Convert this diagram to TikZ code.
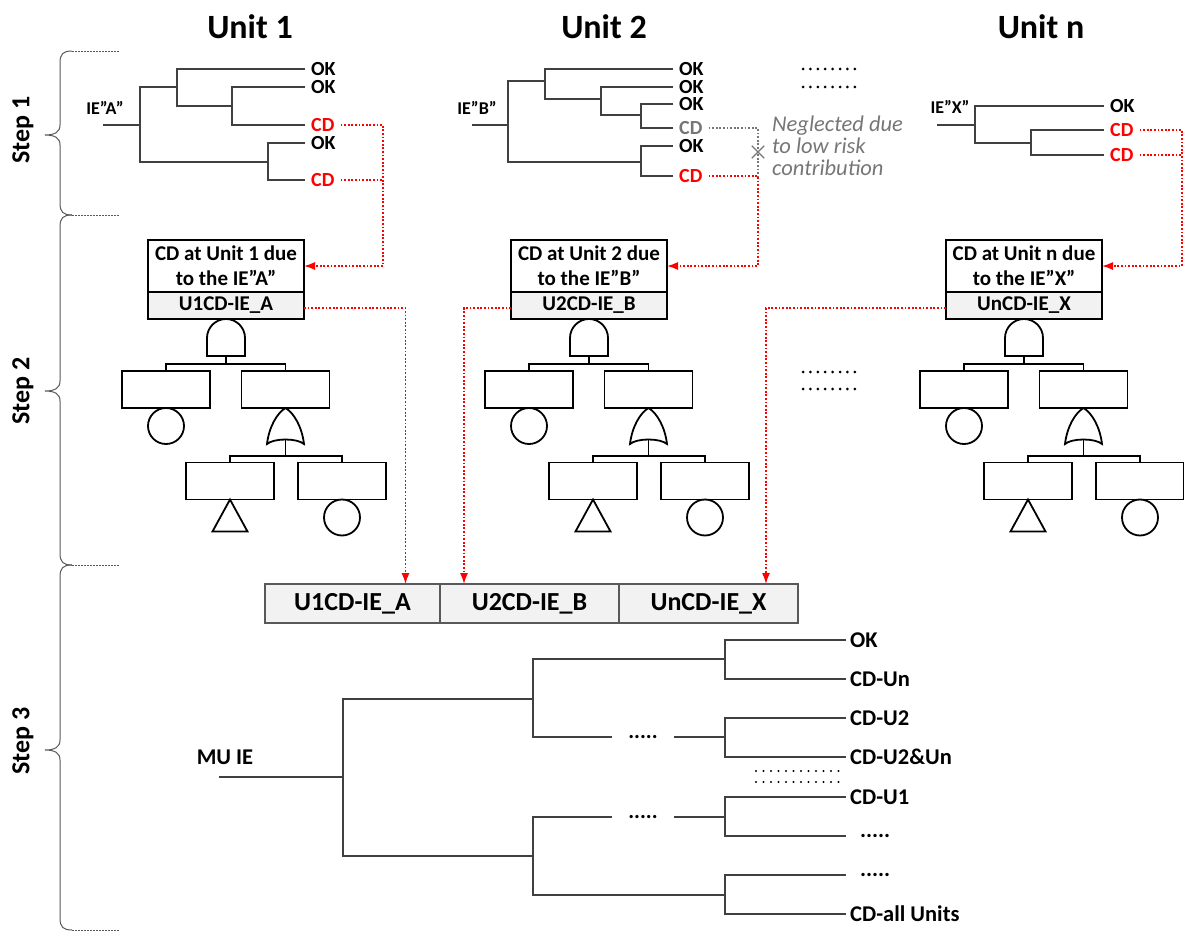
\documentclass[tikz,border=0pt]{standalone}
\usepackage{fontspec}
\setmainfont{Carlito}
\usetikzlibrary{arrows.meta,positioning,shapes.misc}
\definecolor{treegray}{RGB}{64,64,64}
\definecolor{notegray}{RGB}{118,118,118}
\definecolor{tagfill}{RGB}{242,242,242}
\definecolor{bandline}{RGB}{89,89,89}
\tikzset{%
  >={Latex[width=8pt,length=11pt]},
  % Specifications for style of nodes:
        title/.style = {font=\fontsize{34}{40}\selectfont\bfseries},
      steplab/.style = {rotate=90, font=\fontsize{26}{30}\selectfont\bfseries},
           ie/.style = {font=\fontsize{18}{20}\selectfont\bfseries},
         leaf/.style = {anchor=west, inner xsep=6pt, inner ysep=0pt,
                        font=\fontsize{20}{22}\selectfont\bfseries},
       cdleaf/.style = {leaf, text=red},
       grleaf/.style = {leaf, text=notegray},
         note/.style = {text=notegray, align=left, inner sep=0pt,
                        font=\fontsize{22.5}{22}\selectfont\itshape},
          cut/.style = {draw=notegray, cross out, minimum size=11pt,
                        inner sep=0pt, line width=1.3pt},
        cdbox/.style = {rectangle, draw=black, line width=1.8pt,
                        minimum width=156pt, minimum height=52pt, outer sep=0pt,
                        inner sep=2pt, align=center,
                        font=\fontsize{21}{25}\selectfont\bfseries},
       tagbox/.style = {rectangle, draw=black, fill=tagfill, line width=1.8pt,
                        minimum width=156pt, minimum height=27pt, outer sep=0pt,
                        inner sep=0pt, font=\fontsize{21}{24}\selectfont\bfseries},
        event/.style = {rectangle, draw=black, line width=1.8pt,
                        minimum width=88pt, minimum height=37pt, inner sep=0pt,
                        outer sep=0pt},
        basic/.style = {circle, draw=black, line width=1.8pt,
                        minimum size=36pt, inner sep=0pt, outer sep=0pt},
           ft/.style = {draw=black, line width=1.8pt, line join=miter},
         cell/.style = {rectangle, draw=bandline, fill=tagfill, line width=1.6pt,
                        minimum height=39pt, outer sep=0pt, inner sep=0pt,
                        font=\fontsize{26}{30}\selectfont\bfseries},
          evt/.style = {draw=treegray, line width=1.5pt},
          seq/.style = {draw=black!75, line width=1.1pt},
       s3leaf/.style = {anchor=west, inner xsep=4pt, inner ysep=1pt,
                        font=\fontsize{22.5}{24}\selectfont\bfseries},
      gapdots/.style = {inner xsep=16pt, inner ysep=0pt,
                        font=\fontsize{22}{24}\selectfont\bfseries},
       cdlink/.style = {draw=red, line width=1.4pt, dash pattern=on 1.8pt off 1.8pt},
      cdarrow/.style = {cdlink, ->},
       grlink/.style = {draw=notegray, line width=1.2pt, dash pattern=on 1.8pt off 1.8pt},
       dotrow/.style = {line width=3pt, line cap=round, dash pattern=on 0pt off 7.4pt},
        brace/.style = {draw=bandline, line width=1pt},
        guide/.style = {draw=bandline, line width=0.8pt, dash pattern=on 1.5pt off 1.5pt},
}
\begin{document}
\begin{tikzpicture}[x=1pt, y=-1pt]
  \useasboundingbox (0,0) rectangle (1184,934);

  % Column titles
  \node[title] (unit1) at (250,27) {Unit 1};
  \node[title] (unit2) at (604,27) {Unit 2};
  \node[title] (unitn) at (1041,27) {Unit n};

  % Braces for the three steps
  \foreach \ya/\ym/\yb in {51/135/215, 215/391/565, 565/750/930}{
    \draw[brace] (72,\ya) .. controls (63,\ya) and (60,\ya+3) .. (60,\ya+12)
      -- (60,\ym-10) .. controls (60,\ym-3) and (55,\ym) .. (45,\ym)
      .. controls (55,\ym) and (60,\ym+3) .. (60,\ym+10)
      -- (60,\yb-12) .. controls (60,\yb-3) and (63,\yb) .. (72,\yb);
    \draw[guide] (72,\ya) -- (120,\ya) (72,\yb) -- (120,\yb);
  }
  \node[steplab] (step1) at (23,130) {Step 1};
  \node[steplab] (step2) at (23,391) {Step 2};
  \node[steplab] (step3) at (23,741) {Step 3};

  % Step 1: event tree of unit 1
  \node[ie] (ieA) at (105,108) {IE”A”};
  \coordinate (rA) at (103,125);
  \coordinate (sA1) at (140,125);
  \coordinate (sA2) at (177,87);
  \coordinate (sA3) at (232,106);
  \coordinate (sA4) at (268,162);
  \node[leaf] (a1) at (305,69) {OK};
  \node[leaf] (a2) at (305,87) {OK};
  \node[cdleaf] (a3) at (305,125) {CD};
  \node[leaf] (a4) at (305,143) {OK};
  \node[cdleaf] (a5) at (305,180) {CD};
  \draw[evt] (rA) -- (sA1);
  \draw[evt] (sA2) -| (sA1) |- (sA4);
  \draw[evt] (a1.west) -| (sA2) |- (sA3);
  \draw[evt] (a2.west) -| (sA3) |- (a3.west);
  \draw[evt] (a4.west) -| (sA4) |- (a5.west);

  % event tree of unit 2
  \node[ie] (ieB) at (477,108) {IE”B”};
  \coordinate (rB) at (472,125);
  \coordinate (sB1) at (508,125);
  \coordinate (sB2) at (545,81);
  \coordinate (sB3) at (601,99);
  \coordinate (sB4) at (641,115);
  \coordinate (sB5) at (641,162);
  \node[leaf] (b1) at (673,69) {OK};
  \node[leaf] (b2) at (673,87) {OK};
  \node[leaf] (b3) at (673,104) {OK};
  \node[grleaf] (b4) at (673,128) {CD};
  \node[leaf] (b5) at (673,146) {OK};
  \node[cdleaf] (b6) at (673,176) {CD};
  \draw[evt] (rB) -- (sB1);
  \draw[evt] (sB2) -| (sB1) |- (sB5);
  \draw[evt] (b1.west) -| (sB2) |- (sB3);
  \draw[evt] (b2.west) -| (sB3) |- (sB4);
  \draw[evt] (b3.west) -| (sB4) |- (b4.west);
  \draw[evt] (b5.west) -| (sB5) |- (b6.west);
  \node[cut] (cut) at (758,152) {};
  \node[note, anchor=north west] (neg) at (772,116) {Neglected due\\to low risk\\contribution};

  % event tree of unit n
  \node[ie] (ieX) at (950,107) {IE”X”};
  \coordinate (rX) at (937,125);
  \coordinate (sX1) at (975,125);
  \coordinate (sX2) at (1031,143);
  \node[leaf] (x1) at (1104,106) {OK};
  \node[cdleaf] (x2) at (1104,130) {CD};
  \node[cdleaf] (x3) at (1104,155) {CD};
  \draw[evt] (rX) -- (sX1);
  \draw[evt] (x1.west) -| (sX1) |- (sX2);
  \draw[evt] (x2.west) -| (sX2) |- (x3.west);

  \draw[dotrow] (803,69) -- (862,69);
  \draw[dotrow] (803,87) -- (862,87);

  % Step 2: fault trees, one per unit
  \foreach \dx/\ev/\un in {0/A/1, 363/B/2, 798/X/n}{
    \begin{scope}[shift={(\dx,0)}]
      \node[cdbox] (cd\ev) at (226,266) {CD at Unit \un\ due\\to the IE”\ev”};
      \node[tagbox, below=0pt of cd\ev] (tag\ev) {U\un{}CD-IE\_\ev};
      % AND gate
      \draw[ft] (207,356) -- (207,338) arc[start angle=180, end angle=360, radius=19]
        -- (245,356) -- cycle;
      \coordinate (and\ev) at (226,356);
      \node[event] (l\ev) at (166,389.5) {};
      \node[event] (r\ev) at (285.5,389.5) {};
      \draw[ft] (and\ev) -- ++(0,8) coordinate (abar\ev);
      \draw[ft] (l\ev.north) |- (abar\ev) -| (r\ev.north);
      \node[basic] (el\ev) at (166,426) {};
      % OR gate
      \draw[ft] (267,444) .. controls (269,427) and (277,413) .. (285.5,408)
        .. controls (294,413) and (302,427) .. (304,444)
        .. controls (297,438) and (274,438) .. cycle;
      \coordinate (or\ev) at (285.5,439.5);
      \node[event] (ll\ev) at (230,481) {};
      \node[event] (lr\ev) at (342,481) {};
      \draw[ft] (or\ev) -- ++(0,16.5) coordinate (obar\ev);
      \draw[ft] (ll\ev.north) |- (obar\ev) -| (lr\ev.north);
      \draw[ft] (ll\ev.south) -- ++(-17.5,32) -- ++(35,0) -- cycle;
      \node[basic] (er\ev) at (342,517.5) {};
    \end{scope}
  }
  \draw[dotrow] (803,372) -- (862,372);
  \draw[dotrow] (803,389) -- (862,389);

  % links from the CD sequences to the fault trees
  \coordinate (colA) at (383,125);
  \coordinate (colX) at (1182,130);
  \draw[cdarrow] (a3.east) -- (colA) |- (cdA.east);
  \draw[cdlink] (a5.east) -- (a5.east -| colA);
  \draw[grlink] (b4.east) -| (cut.center) -- (cut.center |- b6.east);
  \draw[cdarrow] (b6.east) -- (b6.east -| cut) |- (cdB.east);
  \draw[cdarrow] (x2.east) -- (colX) |- (cdX.east);
  \draw[cdlink] (x3.east) -- (x3.east -| colX);

  % Step 3: merged top events
  \node[cell, minimum width=175pt] (c1) at (352.5,603.5) {U1CD-IE\_A};
  \node[cell, minimum width=179pt, right=0pt of c1] (c2) {U2CD-IE\_B};
  \node[cell, minimum width=179pt, right=0pt of c2] (c3) {UnCD-IE\_X};
  \draw[cdarrow] ([yshift=-2.5pt]tagA.east) -| ([xshift=53pt]c1.north);
  \draw[cdarrow] ([yshift=-2.5pt]tagB.west) -| ([xshift=-65.5pt]c2.north);
  \draw[cdarrow] ([yshift=-2.5pt]tagX.west) -| ([xshift=57.5pt]c3.north);

  % multi-unit event tree
  \node[s3leaf, anchor=center] (mu) at (225,757) {MU IE};
  \coordinate (r3) at (219,777);
  \coordinate (t1) at (343,777);
  \coordinate (t2) at (533,699);
  \coordinate (t3) at (725,659);
  \coordinate (t4) at (725,737);
  \coordinate (t5) at (533,856);
  \coordinate (t6) at (725,817);
  \coordinate (t7) at (725,895);
  \node[gapdots] (g1) at (643,737) {.....};
  \node[gapdots] (g2) at (643,817) {.....};
  \node[s3leaf] (m1) at (846,640) {OK};
  \node[s3leaf] (m2) at (846,679) {CD-Un};
  \node[s3leaf] (m3) at (846,718) {CD-U2};
  \node[s3leaf] (m4) at (846,757) {CD-U2\&Un};
  \node[s3leaf] (m5) at (846,797) {CD-U1};
  \node[s3leaf] (m6) at (846,836) {\hspace{10pt}.....};
  \node[s3leaf] (m7) at (846,875) {\hspace{10pt}.....};
  \node[s3leaf] (m8) at (846,914) {CD-all Units};
  \draw[seq] (r3) -- (t1);
  \draw[seq] (t2) -| (t1) |- (t5);
  \draw[seq] (t3) -| (t2) |- (g1.west);
  \draw[seq] (g1.east) -- (t4);
  \draw[seq] (m1.west) -| (t3) |- (m2.west);
  \draw[seq] (m3.west) -| (t4) |- (m4.west);
  \draw[seq] (g2.west) -| (t5) |- (t7);
  \draw[seq] (g2.east) -- (t6);
  \draw[seq] (m5.west) -| (t6) |- (m6.west);
  \draw[seq] (m7.west) -| (t7) |- (m8.west);
  \draw[dotrow, line width=2.2pt, dash pattern=on 0pt off 7.5pt] (756,771) -- (846,771);
  \draw[dotrow, line width=2.2pt, dash pattern=on 0pt off 7.5pt] (756,782) -- (846,782);
\end{tikzpicture}
\end{document}
